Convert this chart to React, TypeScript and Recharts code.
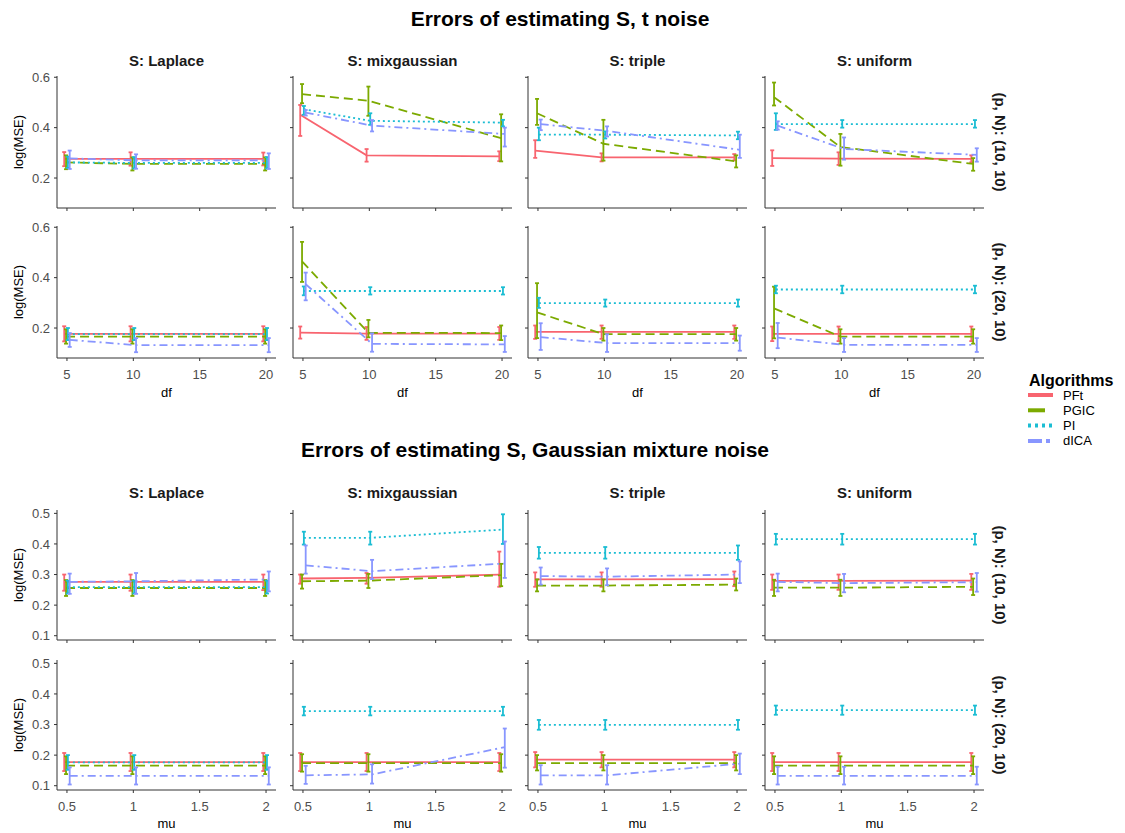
import React from 'react';
import { LineChart, Line, XAxis, YAxis, ErrorBar } from 'recharts';

// ---------- categories / labels ----------
const ALGOS = ['PFt', 'PGIC', 'PI', 'dICA'];
const COLORS = ['#F8646F', '#7CAA00', '#1BBDD3', '#8896FF'];
const DASHES = ['', '9 5', '2 3', '8 4 2 4'];
const KEY_DASHES = ['', '17 10', '3 4', '14 4 4 4'];
const DISTS = ['S: Laplace', 'S: mixgaussian', 'S: triple', 'S: uniform'];
const ROW_LABELS = ['(p, N): (10, 10)', '(p, N): (20, 10)'];
const TITLE_T = 'Errors of estimating S, t noise';
const TITLE_GM = 'Errors of estimating S, Gaussian mixture noise';

const DF = [5, 10, 20];
const MU = [0.5, 1, 2];
const DF_TICKS = [5, 10, 15, 20];
const MU_TICKS = [0.5, 1, 1.5, 2];
const T_Y_TICKS = [0.2, 0.4, 0.6];
const GM_Y_TICKS = [0.1, 0.2, 0.3, 0.4, 0.5];

// each series: three [lo, mean, hi] triples (one per x value); order PFt, PGIC, PI, dICA
// ---------- t noise, (10,10) ----------
const T10_LAPLACE = [
  [[0.247, 0.276, 0.303], [0.249, 0.276, 0.302], [0.25, 0.276, 0.301]],
  [[0.235, 0.262, 0.29], [0.23, 0.256, 0.282], [0.23, 0.256, 0.282]],
  [[0.24, 0.262, 0.285], [0.238, 0.26, 0.283], [0.238, 0.26, 0.283]],
  [[0.236, 0.278, 0.309], [0.237, 0.27, 0.294], [0.236, 0.27, 0.298]],
];
const T10_MIXGAUSS = [
  [[0.367, 0.451, 0.49], [0.265, 0.29, 0.315], [0.267, 0.286, 0.306]],
  [[0.497, 0.533, 0.573], [0.447, 0.507, 0.563], [0.266, 0.358, 0.453]],
  [[0.451, 0.473, 0.486], [0.411, 0.427, 0.457], [0.405, 0.42, 0.431]],
  [[0.448, 0.46, 0.47], [0.385, 0.408, 0.43], [0.325, 0.375, 0.4]],
];
const T10_TRIPLE = [
  [[0.28, 0.309, 0.35], [0.266, 0.282, 0.298], [0.27, 0.282, 0.295]],
  [[0.411, 0.457, 0.514], [0.269, 0.336, 0.431], [0.242, 0.266, 0.29]],
  [[0.35, 0.372, 0.4], [0.357, 0.372, 0.385], [0.354, 0.369, 0.384]],
  [[0.39, 0.414, 0.432], [0.365, 0.387, 0.405], [0.28, 0.312, 0.372]],
];
const T10_UNIFORM = [
  [[0.248, 0.279, 0.31], [0.252, 0.277, 0.302], [0.262, 0.276, 0.29]],
  [[0.488, 0.521, 0.579], [0.249, 0.323, 0.375], [0.229, 0.256, 0.279]],
  [[0.391, 0.414, 0.457], [0.4, 0.414, 0.43], [0.4, 0.414, 0.43]],
  [[0.392, 0.408, 0.425], [0.273, 0.315, 0.361], [0.265, 0.292, 0.318]],
];
// ---------- t noise, (20,10) ----------
const T20_LAPLACE = [
  [[0.147, 0.177, 0.207], [0.147, 0.177, 0.207], [0.147, 0.177, 0.207]],
  [[0.138, 0.166, 0.195], [0.138, 0.166, 0.195], [0.138, 0.166, 0.195]],
  [[0.152, 0.176, 0.2], [0.152, 0.176, 0.2], [0.152, 0.176, 0.2]],
  [[0.125, 0.153, 0.18], [0.104, 0.132, 0.16], [0.104, 0.132, 0.16]],
];
const T20_MIXGAUSS = [
  [[0.158, 0.182, 0.206], [0.153, 0.178, 0.204], [0.153, 0.178, 0.204]],
  [[0.383, 0.465, 0.542], [0.163, 0.181, 0.232], [0.152, 0.18, 0.21]],
  [[0.33, 0.347, 0.365], [0.333, 0.347, 0.362], [0.333, 0.347, 0.362]],
  [[0.31, 0.374, 0.42], [0.106, 0.137, 0.179], [0.105, 0.135, 0.168]],
];
const T20_TRIPLE = [
  [[0.157, 0.185, 0.21], [0.157, 0.185, 0.21], [0.157, 0.185, 0.21]],
  [[0.16, 0.262, 0.378], [0.15, 0.176, 0.2], [0.15, 0.176, 0.2]],
  [[0.28, 0.299, 0.32], [0.285, 0.299, 0.313], [0.285, 0.299, 0.313]],
  [[0.113, 0.164, 0.219], [0.105, 0.14, 0.175], [0.11, 0.14, 0.17]],
];
const T20_UNIFORM = [
  [[0.148, 0.177, 0.206], [0.148, 0.177, 0.206], [0.148, 0.177, 0.206]],
  [[0.159, 0.278, 0.364], [0.138, 0.166, 0.195], [0.138, 0.166, 0.195]],
  [[0.338, 0.353, 0.368], [0.338, 0.353, 0.368], [0.338, 0.353, 0.368]],
  [[0.12, 0.162, 0.22], [0.105, 0.133, 0.16], [0.105, 0.133, 0.16]],
];
// ---------- Gaussian mixture noise, (10,10) ----------
const GM10_LAPLACE = [
  [[0.247, 0.276, 0.3], [0.247, 0.276, 0.3], [0.249, 0.276, 0.3]],
  [[0.23, 0.256, 0.282], [0.23, 0.256, 0.282], [0.23, 0.256, 0.282]],
  [[0.238, 0.259, 0.28], [0.238, 0.259, 0.28], [0.238, 0.259, 0.28]],
  [[0.237, 0.276, 0.303], [0.237, 0.278, 0.305], [0.245, 0.284, 0.31]],
];
const GM10_MIXGAUSS = [
  [[0.27, 0.287, 0.3], [0.27, 0.289, 0.305], [0.26, 0.3, 0.375]],
  [[0.254, 0.278, 0.3], [0.256, 0.28, 0.302], [0.262, 0.298, 0.335]],
  [[0.398, 0.42, 0.44], [0.398, 0.42, 0.44], [0.4, 0.447, 0.497]],
  [[0.303, 0.33, 0.395], [0.285, 0.311, 0.348], [0.289, 0.336, 0.408]],
];
const GM10_TRIPLE = [
  [[0.26, 0.284, 0.307], [0.26, 0.284, 0.307], [0.262, 0.285, 0.31]],
  [[0.245, 0.264, 0.284], [0.245, 0.264, 0.284], [0.248, 0.267, 0.287]],
  [[0.352, 0.371, 0.39], [0.352, 0.371, 0.39], [0.348, 0.371, 0.395]],
  [[0.267, 0.295, 0.323], [0.265, 0.293, 0.32], [0.272, 0.3, 0.343]],
];
const GM10_UNIFORM = [
  [[0.25, 0.279, 0.3], [0.25, 0.279, 0.3], [0.25, 0.28, 0.302]],
  [[0.23, 0.257, 0.283], [0.23, 0.257, 0.283], [0.233, 0.26, 0.287]],
  [[0.398, 0.416, 0.433], [0.398, 0.416, 0.433], [0.398, 0.416, 0.433]],
  [[0.245, 0.276, 0.303], [0.242, 0.272, 0.302], [0.244, 0.275, 0.305]],
];
// ---------- Gaussian mixture noise, (20,10) ----------
const GM20_LAPLACE = [
  [[0.148, 0.177, 0.207], [0.148, 0.177, 0.207], [0.148, 0.177, 0.207]],
  [[0.138, 0.166, 0.196], [0.138, 0.166, 0.196], [0.138, 0.166, 0.196]],
  [[0.152, 0.176, 0.2], [0.152, 0.176, 0.2], [0.152, 0.176, 0.2]],
  [[0.104, 0.132, 0.16], [0.104, 0.132, 0.16], [0.104, 0.132, 0.16]],
];
const GM20_MIXGAUSS = [
  [[0.148, 0.177, 0.207], [0.148, 0.177, 0.207], [0.148, 0.177, 0.207]],
  [[0.146, 0.174, 0.203], [0.146, 0.174, 0.203], [0.146, 0.174, 0.203]],
  [[0.33, 0.344, 0.358], [0.33, 0.344, 0.358], [0.33, 0.344, 0.358]],
  [[0.106, 0.134, 0.165], [0.107, 0.137, 0.17], [0.159, 0.226, 0.287]],
];
const GM20_TRIPLE = [
  [[0.16, 0.185, 0.21], [0.16, 0.185, 0.21], [0.16, 0.185, 0.21]],
  [[0.15, 0.174, 0.2], [0.15, 0.174, 0.2], [0.15, 0.174, 0.2]],
  [[0.283, 0.299, 0.315], [0.283, 0.299, 0.315], [0.283, 0.299, 0.315]],
  [[0.104, 0.134, 0.167], [0.104, 0.134, 0.167], [0.138, 0.172, 0.205]],
];
const GM20_UNIFORM = [
  [[0.148, 0.177, 0.207], [0.148, 0.177, 0.207], [0.148, 0.177, 0.207]],
  [[0.138, 0.166, 0.196], [0.138, 0.166, 0.196], [0.138, 0.166, 0.196]],
  [[0.332, 0.347, 0.362], [0.332, 0.347, 0.362], [0.332, 0.347, 0.362]],
  [[0.104, 0.132, 0.162], [0.104, 0.132, 0.162], [0.104, 0.132, 0.162]],
];

const T_GRID = [
  [T10_LAPLACE, T10_MIXGAUSS, T10_TRIPLE, T10_UNIFORM],
  [T20_LAPLACE, T20_MIXGAUSS, T20_TRIPLE, T20_UNIFORM],
];
const GM_GRID = [
  [GM10_LAPLACE, GM10_MIXGAUSS, GM10_TRIPLE, GM10_UNIFORM],
  [GM20_LAPLACE, GM20_MIXGAUSS, GM20_TRIPLE, GM20_UNIFORM],
];

// ---------- layout ----------
const FONT = '"Liberation Sans", Arial, Helvetica, sans-serif';
const COL_LEFT = [57, 293, 528, 765];
const PANEL_W = 219;
const Y_AXIS_W = 50;
const X_AXIS_H = 30;
const AXIS_COLOR = '#333333';
const TICK_COLOR = '#4D4D4D';

const NoTick = () => <g />;

type PanelProps = {
  left: number; top: number; h: number;
  xs: number[]; xDomain: [number, number]; xTicks: number[];
  yDomain: [number, number]; yTicks: number[];
  dodge: number; series: number[][][];
  showX: boolean; showY: boolean; xFmt: (v: number) => string;
};

function Panel(p: PanelProps) {
  const chartW = Y_AXIS_W + PANEL_W + 5;
  const chartH = 5 + p.h + X_AXIS_H;
  return (
    <div style={{ position: 'absolute', left: p.left - Y_AXIS_W, top: p.top - 5 }}>
      <LineChart width={chartW} height={chartH} margin={{ top: 5, right: 5, bottom: 0, left: 0 }}>
        <XAxis
          type="number" dataKey="x" domain={p.xDomain} ticks={p.xTicks} allowDataOverflow
          height={X_AXIS_H} tickSize={3} tickMargin={9}
          axisLine={{ stroke: AXIS_COLOR, strokeWidth: 1 }} tickLine={{ stroke: AXIS_COLOR }}
          tick={p.showX ? { fill: TICK_COLOR, fontSize: 13 } : NoTick}
          tickFormatter={p.xFmt} interval={0}
        />
        <YAxis
          type="number" domain={p.yDomain} ticks={p.yTicks} allowDataOverflow
          width={Y_AXIS_W} tickSize={3} tickMargin={4}
          axisLine={{ stroke: AXIS_COLOR, strokeWidth: 1 }} tickLine={{ stroke: AXIS_COLOR }}
          tick={p.showY ? { fill: TICK_COLOR, fontSize: 13 } : NoTick}
          tickFormatter={(v: number) => v.toFixed(1)} interval={0}
        />
        {p.series.map((s, i) => {
          const off = (i - 1.5) * p.dodge / 4;
          const data = s.map((t, j) => ({ x: p.xs[j] + off, y: t[1], err: [t[1] - t[0], t[2] - t[1]] }));
          return (
            <Line
              key={ALGOS[i]} name={ALGOS[i]} data={data} dataKey="y" type="linear"
              stroke={COLORS[i]} strokeWidth={1.8} strokeDasharray={DASHES[i] || undefined}
              dot={false} activeDot={false} isAnimationActive={false}
            >
              <ErrorBar dataKey="err" direction="y" width={2} strokeWidth={1.8} stroke={COLORS[i]} />
            </Line>
          );
        })}
      </LineChart>
    </div>
  );
}

type FigProps = {
  grid: number[][][][]; rowTops: number[]; h: number; xs: number[];
  xDomain: [number, number]; xTicks: number[]; yDomain: [number, number]; yTicks: number[];
  dodge: number; xFmt: (v: number) => string;
};

function Figure(f: FigProps) {
  return (
    <>
      {f.grid.map((row, r) =>
        row.map((series, c) => (
          <Panel
            key={`${r}-${c}`} left={COL_LEFT[c]} top={f.rowTops[r]} h={f.h}
            xs={f.xs} xDomain={f.xDomain} xTicks={f.xTicks}
            yDomain={f.yDomain} yTicks={f.yTicks} dodge={f.dodge} series={series}
            showX={r === 1} showY={c === 0} xFmt={f.xFmt}
          />
        ))
      )}
    </>
  );
}

const T_ROW_TOPS = [76, 226];
const T_H = 132;
const GM_ROW_TOPS = [510, 660];
const GM_H = 130;

export default function App() {
  const colCenters = COL_LEFT.map((l) => l + PANEL_W / 2);
  return (
    <div style={{ position: 'absolute', left: 0, top: 0, width: 1125, height: 833, background: '#fff', fontFamily: FONT, overflow: 'hidden' }}>
      <svg width={1125} height={833} style={{ position: 'absolute', left: 0, top: 0 }} fontFamily={FONT}>
        <text x={560} y={18} textAnchor="middle" dominantBaseline="central" fontSize={21} fontWeight="bold" fill="#000">{TITLE_T}</text>
        <text x={535} y={449} textAnchor="middle" dominantBaseline="central" fontSize={21} fontWeight="bold" fill="#000">{TITLE_GM}</text>
        {DISTS.map((d, i) => (
          <React.Fragment key={d}>
            <text x={colCenters[i]} y={60} textAnchor="middle" dominantBaseline="central" fontSize={15} fontWeight="bold" fill="#1a1a1a">{d}</text>
            <text x={colCenters[i]} y={492} textAnchor="middle" dominantBaseline="central" fontSize={15} fontWeight="bold" fill="#1a1a1a">{d}</text>
            <text x={colCenters[i]} y={392} textAnchor="middle" dominantBaseline="central" fontSize={13} fill="#000">df</text>
            <text x={colCenters[i]} y={823} textAnchor="middle" dominantBaseline="central" fontSize={13} fill="#000">mu</text>
          </React.Fragment>
        ))}
        {[...T_ROW_TOPS.map((t) => t + T_H / 2), ...GM_ROW_TOPS.map((t) => t + GM_H / 2)].map((cy, k) => (
          <React.Fragment key={k}>
            <text transform={`translate(18,${cy}) rotate(-90)`} textAnchor="middle" dominantBaseline="central" fontSize={13} fill="#000">log(MSE)</text>
            <text transform={`translate(1000,${cy}) rotate(90)`} textAnchor="middle" dominantBaseline="central" fontSize={15} fontWeight="bold" fill="#1a1a1a">{ROW_LABELS[k % 2]}</text>
          </React.Fragment>
        ))}
        <text x={1029} y={380} dominantBaseline="central" fontSize={16} fontWeight="bold" fill="#000">Algorithms</text>
        {ALGOS.map((a, i) => {
          const y = 395 + i * 15.3;
          return (
            <React.Fragment key={a}>
              <line x1={1028} x2={1053} y1={y} y2={y} stroke={COLORS[i]} strokeWidth={4} strokeDasharray={KEY_DASHES[i] || undefined} />
              <text x={1063} y={y} dominantBaseline="central" fontSize={13} fill="#000">{a}</text>
            </React.Fragment>
          );
        })}
      </svg>
      <Figure
        grid={T_GRID} rowTops={T_ROW_TOPS} h={T_H} xs={DF} xDomain={[4.25, 20.75]} xTicks={DF_TICKS}
        yDomain={[0.081, 0.605]} yTicks={T_Y_TICKS} dodge={0.55} xFmt={(v) => String(v)}
      />
      <Figure
        grid={GM_GRID} rowTops={GM_ROW_TOPS} h={GM_H} xs={MU} xDomain={[0.425, 2.075]} xTicks={MU_TICKS}
        yDomain={[0.086, 0.511]} yTicks={GM_Y_TICKS} dodge={0.055} xFmt={(v) => String(v)}
      />
    </div>
  );
}
